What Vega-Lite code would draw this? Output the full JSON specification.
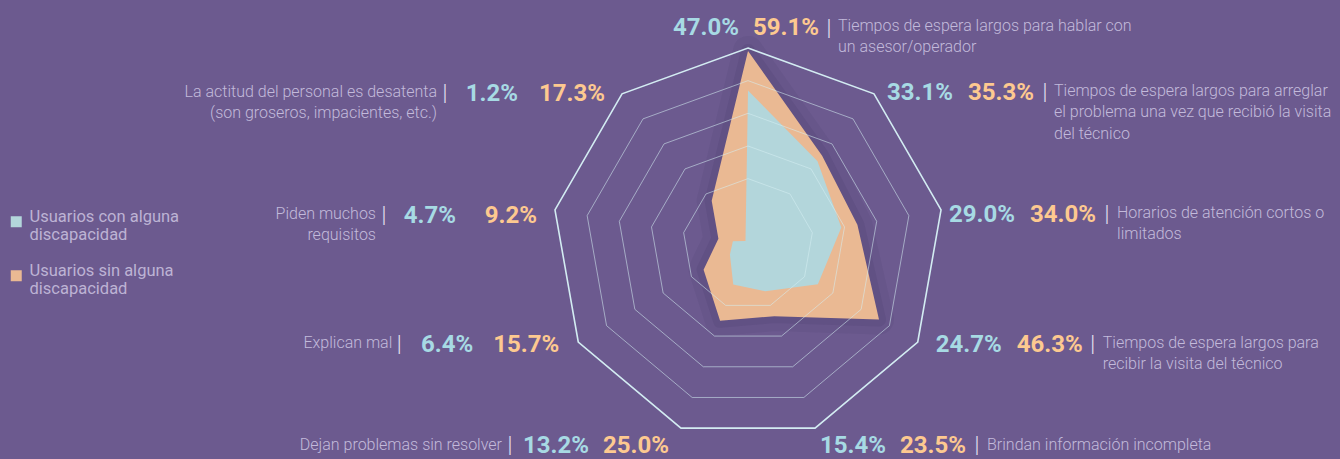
{
  "$schema": "https://vega.github.io/schema/vega-lite/v6.json",
  "width": 1340,
  "height": 459,
  "padding": 0,
  "autosize": {"type": "none"},
  "background": "#6c5a8f",
  "config": {
    "view": {"stroke": null},
    "legend": {
      "orient": "none",
      "legendX": 8,
      "legendY": 213.5,
      "padding": 0,
      "title": null,
      "symbolType": "square",
      "symbolSize": 121,
      "symbolStrokeWidth": 0,
      "symbolOpacity": 1,
      "labelFont": "Roboto, sans-serif",
      "labelFontSize": 16.5,
      "labelColor": "#bdb3d4",
      "labelOffset": 5,
      "labelLimit": 0,
      "labelBaseline": "alphabetic",
      "labelLineHeight": 19,
      "rowPadding": 18
    }
  },
  "datasets": {
    "series": [
      {"k": 0, "grupo": "Usuarios con alguna discapacidad", "v": 47.0},
      {"k": 1, "grupo": "Usuarios con alguna discapacidad", "v": 33.1},
      {"k": 2, "grupo": "Usuarios con alguna discapacidad", "v": 29.0},
      {"k": 3, "grupo": "Usuarios con alguna discapacidad", "v": 24.7},
      {"k": 4, "grupo": "Usuarios con alguna discapacidad", "v": 15.4},
      {"k": 5, "grupo": "Usuarios con alguna discapacidad", "v": 13.2},
      {"k": 6, "grupo": "Usuarios con alguna discapacidad", "v": 6.4},
      {"k": 7, "grupo": "Usuarios con alguna discapacidad", "v": 4.7},
      {"k": 8, "grupo": "Usuarios con alguna discapacidad", "v": 1.2},
      {"k": 0, "grupo": "Usuarios sin alguna discapacidad", "v": 59.1},
      {"k": 1, "grupo": "Usuarios sin alguna discapacidad", "v": 35.3},
      {"k": 2, "grupo": "Usuarios sin alguna discapacidad", "v": 34.0},
      {"k": 3, "grupo": "Usuarios sin alguna discapacidad", "v": 46.3},
      {"k": 4, "grupo": "Usuarios sin alguna discapacidad", "v": 23.5},
      {"k": 5, "grupo": "Usuarios sin alguna discapacidad", "v": 25.0},
      {"k": 6, "grupo": "Usuarios sin alguna discapacidad", "v": 15.7},
      {"k": 7, "grupo": "Usuarios sin alguna discapacidad", "v": 9.2},
      {"k": 8, "grupo": "Usuarios sin alguna discapacidad", "v": 17.3}
    ],
    "cats": [
      {"k": 0, "desc": ["Tiempos de espera largos para hablar con", "un asesor/operador"]},
      {"k": 1, "desc": ["Tiempos de espera largos para arreglar", "el problema una vez que recibió la visita", "del técnico"]},
      {"k": 2, "desc": ["Horarios de atención cortos o", "limitados"]},
      {"k": 3, "desc": ["Tiempos de espera largos para", "recibir la visita del técnico"]},
      {"k": 4, "desc": ["Brindan información incompleta"]},
      {"k": 5, "desc": ["Dejan problemas sin resolver"]},
      {"k": 6, "desc": ["Explican mal"]},
      {"k": 7, "desc": ["Piden muchos", "requisitos"]},
      {"k": 8, "desc": ["La actitud del personal es desatenta", "(son groseros, impacientes, etc.)"]}
    ],
    "rings": [
      {"nivel": 20, "k": [0, 1, 2, 3, 4, 5, 6, 7, 8]},
      {"nivel": 30, "k": [0, 1, 2, 3, 4, 5, 6, 7, 8]},
      {"nivel": 40, "k": [0, 1, 2, 3, 4, 5, 6, 7, 8]},
      {"nivel": 50, "k": [0, 1, 2, 3, 4, 5, 6, 7, 8]},
      {"nivel": 60, "k": [0, 1, 2, 3, 4, 5, 6, 7, 8]}
    ]
  },
  "layer": [
    {
      "data": {"name": "series"},
      "transform": [
        {"filter": "datum.grupo == 'Usuarios sin alguna discapacidad'"},
        {"calculate": "datum.k * 2 * PI / 9", "as": "ang"},
        {"calculate": "datum.v * sin(datum.ang)", "as": "x"},
        {"calculate": "datum.v * cos(datum.ang)", "as": "y"}
      ],
      "mark": {"type": "line", "interpolate": "linear-closed", "stroke": "#2a1f4a", "strokeWidth": 30, "strokeOpacity": 0.06, "strokeJoin": "round"},
      "encoding": {
        "x": {"field": "x", "type": "quantitative", "scale": {"domain": [-228.98, 181.22], "nice": false, "zero": false}, "axis": null},
        "y": {"field": "y", "type": "quantitative", "scale": {"domain": [-65.82, 74.69], "nice": false, "zero": false}, "axis": null},
        "order": {"field": "k", "type": "quantitative"}
      }
    },
    {
      "data": {"name": "series"},
      "transform": [
        {"filter": "datum.grupo == 'Usuarios sin alguna discapacidad'"},
        {"calculate": "datum.k * 2 * PI / 9", "as": "ang"},
        {"calculate": "datum.v * sin(datum.ang)", "as": "x"},
        {"calculate": "datum.v * cos(datum.ang)", "as": "y"}
      ],
      "mark": {"type": "line", "interpolate": "linear-closed", "stroke": "#2a1f4a", "strokeWidth": 14, "strokeOpacity": 0.09, "strokeJoin": "round"},
      "encoding": {
        "x": {"field": "x", "type": "quantitative", "scale": {"domain": [-228.98, 181.22], "nice": false, "zero": false}, "axis": null},
        "y": {"field": "y", "type": "quantitative", "scale": {"domain": [-65.82, 74.69], "nice": false, "zero": false}, "axis": null},
        "order": {"field": "k", "type": "quantitative"}
      }
    },
    {
      "data": {"name": "series"},
      "transform": [
        {"filter": "datum.grupo == 'Usuarios sin alguna discapacidad'"},
        {"calculate": "datum.k * 2 * PI / 9", "as": "ang"},
        {"calculate": "datum.v * sin(datum.ang)", "as": "x"},
        {"calculate": "datum.v * cos(datum.ang)", "as": "y"}
      ],
      "mark": {"type": "line", "interpolate": "linear-closed", "strokeWidth": 0, "fillOpacity": 1},
      "encoding": {
        "x": {"field": "x", "type": "quantitative", "scale": {"domain": [-228.98, 181.22], "nice": false, "zero": false}, "axis": null},
        "y": {"field": "y", "type": "quantitative", "scale": {"domain": [-65.82, 74.69], "nice": false, "zero": false}, "axis": null},
        "order": {"field": "k", "type": "quantitative"},
        "fill": {
          "field": "grupo", "type": "nominal",
          "scale": {"domain": ["Usuarios con alguna discapacidad", "Usuarios sin alguna discapacidad"], "range": ["#b3d6db", "#eab993"]},
          "legend": {"labelExpr": "[slice(datum.label, 0, 19), slice(datum.label, 20)]", "encode": {"labels": {"update": {"dy": {"value": 9}}}}}
        }
      }
    },
    {
      "data": {"name": "series"},
      "transform": [
        {"filter": "datum.grupo == 'Usuarios con alguna discapacidad'"},
        {"calculate": "datum.k * 2 * PI / 9", "as": "ang"},
        {"calculate": "datum.v * sin(datum.ang)", "as": "x"},
        {"calculate": "datum.v * cos(datum.ang)", "as": "y"}
      ],
      "mark": {"type": "line", "interpolate": "linear-closed", "strokeWidth": 0, "fillOpacity": 1},
      "encoding": {
        "x": {"field": "x", "type": "quantitative", "scale": {"domain": [-228.98, 181.22], "nice": false, "zero": false}, "axis": null},
        "y": {"field": "y", "type": "quantitative", "scale": {"domain": [-65.82, 74.69], "nice": false, "zero": false}, "axis": null},
        "order": {"field": "k", "type": "quantitative"},
        "fill": {
          "field": "grupo", "type": "nominal",
          "scale": {"domain": ["Usuarios con alguna discapacidad", "Usuarios sin alguna discapacidad"], "range": ["#b3d6db", "#eab993"]},
          "legend": {"labelExpr": "[slice(datum.label, 0, 19), slice(datum.label, 20)]", "encode": {"labels": {"update": {"dy": {"value": 9}}}}}
        }
      }
    },
    {
      "data": {"name": "rings"},
      "transform": [
        {"flatten": ["k"]},
        {"filter": "datum.nivel < 60"},
        {"calculate": "datum.k * 2 * PI / 9", "as": "ang"},
        {"calculate": "datum.nivel * sin(datum.ang)", "as": "x"},
        {"calculate": "datum.nivel * cos(datum.ang)", "as": "y"}
      ],
      "mark": {"type": "line", "interpolate": "linear-closed", "stroke": "#d6eef3", "strokeWidth": 1, "strokeOpacity": 0.55},
      "encoding": {
        "x": {"field": "x", "type": "quantitative", "scale": {"domain": [-228.98, 181.22], "nice": false, "zero": false}, "axis": null},
        "y": {"field": "y", "type": "quantitative", "scale": {"domain": [-65.82, 74.69], "nice": false, "zero": false}, "axis": null},
        "order": {"field": "k", "type": "quantitative"},
        "detail": {"field": "nivel", "type": "nominal"}
      }
    },
    {
      "data": {"name": "rings"},
      "transform": [
        {"flatten": ["k"]},
        {"filter": "datum.nivel == 60"},
        {"calculate": "datum.k * 2 * PI / 9", "as": "ang"},
        {"calculate": "datum.nivel * sin(datum.ang)", "as": "x"},
        {"calculate": "datum.nivel * cos(datum.ang)", "as": "y"}
      ],
      "mark": {"type": "line", "interpolate": "linear-closed", "stroke": "#d3ecf2", "strokeWidth": 1.6},
      "encoding": {
        "x": {"field": "x", "type": "quantitative", "scale": {"domain": [-228.98, 181.22], "nice": false, "zero": false}, "axis": null},
        "y": {"field": "y", "type": "quantitative", "scale": {"domain": [-65.82, 74.69], "nice": false, "zero": false}, "axis": null},
        "order": {"field": "k", "type": "quantitative"},
        "detail": {"field": "nivel", "type": "nominal"}
      }
    },
    {
      "data": {"name": "series"},
      "transform": [
        {"filter": "datum.grupo == 'Usuarios con alguna discapacidad'"},
        {"calculate": "datum.k * 2 * PI / 9", "as": "ang"},
        {"calculate": "60 * sin(datum.ang)", "as": "x"},
        {"calculate": "60 * cos(datum.ang)", "as": "y"},
        {"calculate": "format(datum.v, '.1f') + '%'", "as": "etiqueta"}
      ],
      "mark": {
        "type": "text", "font": "Roboto, sans-serif", "fontWeight": "bold", "fontSize": 24,
        "color": "#a7dae4", "baseline": "alphabetic",
        "align": {"expr": "datum.k >= 5 ? 'right' : 'left'"},
        "dx": {"expr": "[-75, 13, 8, 18, 5, -92, -105, -99, -104][datum.k]"},
        "dy": {"expr": "[-13, 6, 12, 10, 25, 25, 10, 13, 7][datum.k]"}
      },
      "encoding": {
        "x": {"field": "x", "type": "quantitative", "scale": {"domain": [-228.98, 181.22], "nice": false, "zero": false}, "axis": null},
        "y": {"field": "y", "type": "quantitative", "scale": {"domain": [-65.82, 74.69], "nice": false, "zero": false}, "axis": null},
        "text": {"field": "etiqueta", "type": "nominal"}
      }
    },
    {
      "data": {"name": "series"},
      "transform": [
        {"filter": "datum.grupo == 'Usuarios sin alguna discapacidad'"},
        {"calculate": "datum.k * 2 * PI / 9", "as": "ang"},
        {"calculate": "60 * sin(datum.ang)", "as": "x"},
        {"calculate": "60 * cos(datum.ang)", "as": "y"},
        {"calculate": "format(datum.v, '.1f') + '%'", "as": "etiqueta"}
      ],
      "mark": {
        "type": "text", "font": "Roboto, sans-serif", "fontWeight": "bold", "fontSize": 24,
        "color": "#fdc990", "baseline": "alphabetic",
        "align": {"expr": "datum.k >= 5 ? 'right' : 'left'"},
        "dx": {"expr": "[5, 94, 89, 99, 85, -12, -19, -18, -17][datum.k]"},
        "dy": {"expr": "[-13, 6, 12, 10, 25, 25, 10, 13, 7][datum.k]"}
      },
      "encoding": {
        "x": {"field": "x", "type": "quantitative", "scale": {"domain": [-228.98, 181.22], "nice": false, "zero": false}, "axis": null},
        "y": {"field": "y", "type": "quantitative", "scale": {"domain": [-65.82, 74.69], "nice": false, "zero": false}, "axis": null},
        "text": {"field": "etiqueta", "type": "nominal"}
      }
    },
    {
      "data": {"name": "cats"},
      "transform": [
        {"calculate": "datum.k * 2 * PI / 9", "as": "ang"},
        {"calculate": "60 * sin(datum.ang)", "as": "x"},
        {"calculate": "60 * cos(datum.ang)", "as": "y"}
      ],
      "mark": {
        "type": "text", "font": "Roboto, sans-serif", "fontWeight": 300, "fontSize": 22, "text": "|",
        "color": "#e6e2ef", "baseline": "alphabetic", "align": "center",
        "dx": {"expr": "[81, 171, 166, 175, 162, -171, -179, -171, -177][datum.k]"},
        "dy": {"expr": "[-13, 5, 11, 9, 24, 24, 9, 12, 6][datum.k]"}
      },
      "encoding": {
        "x": {"field": "x", "type": "quantitative", "scale": {"domain": [-228.98, 181.22], "nice": false, "zero": false}, "axis": null},
        "y": {"field": "y", "type": "quantitative", "scale": {"domain": [-65.82, 74.69], "nice": false, "zero": false}, "axis": null}
      }
    },
    {
      "data": {"name": "cats"},
      "transform": [
        {"calculate": "datum.k * 2 * PI / 9", "as": "ang"},
        {"calculate": "60 * sin(datum.ang)", "as": "x"},
        {"calculate": "60 * cos(datum.ang)", "as": "y"}
      ],
      "mark": {
        "type": "text", "font": "Roboto, sans-serif", "fontWeight": 300, "fontSize": 16, "lineHeight": 21.5,
        "color": "#c3badb", "baseline": "alphabetic",
        "align": {"expr": "datum.k >= 5 ? 'right' : 'left'"},
        "dx": {"expr": "[90, 180, 176, 185, 172, -179, -186, -179, -185][datum.k]"},
        "dy": {"expr": "[-17, 2, 8, 6, 22, 22, 6, 9, 3][datum.k]"}
      },
      "encoding": {
        "x": {"field": "x", "type": "quantitative", "scale": {"domain": [-228.98, 181.22], "nice": false, "zero": false}, "axis": null},
        "y": {"field": "y", "type": "quantitative", "scale": {"domain": [-65.82, 74.69], "nice": false, "zero": false}, "axis": null},
        "text": {"field": "desc", "type": "nominal"}
      }
    }
  ]
}
